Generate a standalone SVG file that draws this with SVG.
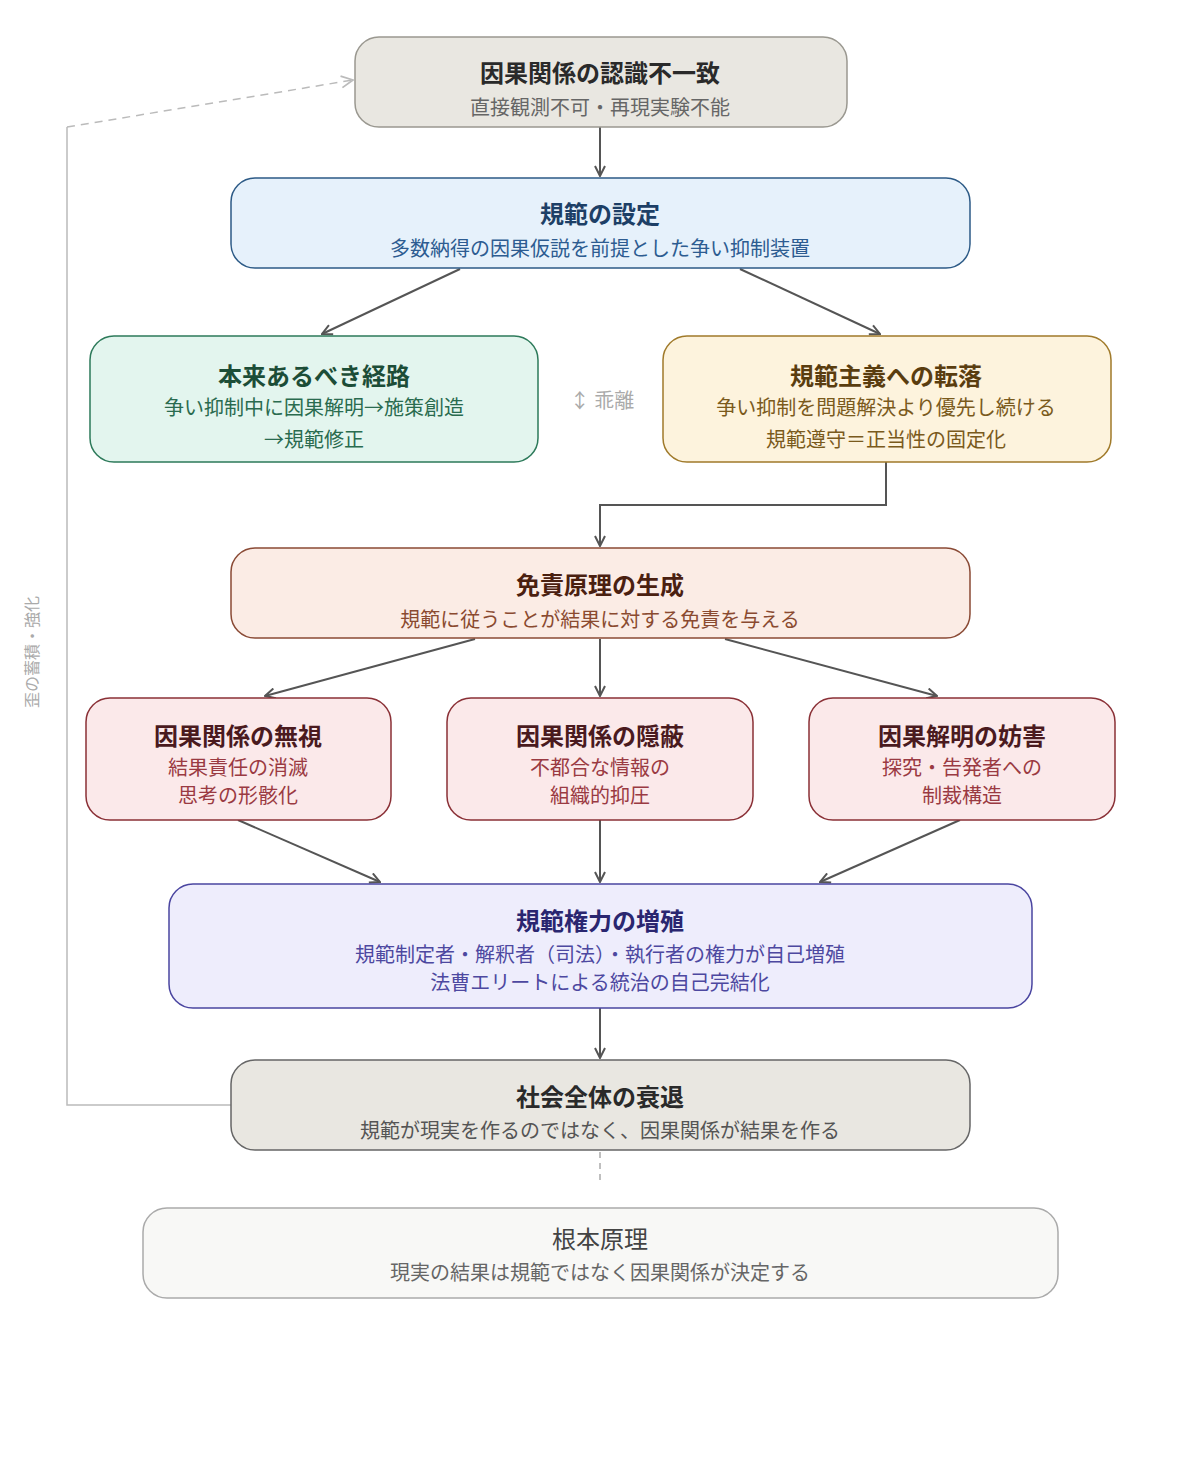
<svg xmlns="http://www.w3.org/2000/svg" width="1200" height="1482" viewBox="0 0 1200 1482">
<style>
text{font-family:"Noto Sans CJK JP","Noto Sans",sans-serif;text-anchor:middle}
.t{font-size:24px;font-weight:bold}
.s{font-size:20px}
.c{fill:none;stroke:#555;stroke-width:2}
</style>
<defs>
<marker id="a" viewBox="0 0 12 12" refX="11" refY="6" markerWidth="12" markerHeight="12" markerUnits="userSpaceOnUse" orient="auto"><path d="M1,1 L11,6 L1,11" fill="none" stroke="#555" stroke-width="2"/></marker>
<marker id="g" viewBox="0 0 12 12" refX="11" refY="6" markerWidth="14" markerHeight="14" markerUnits="userSpaceOnUse" orient="auto"><path d="M1,1 L11,6 L1,11" fill="none" stroke="#bbb" stroke-width="1.5"/></marker>
</defs>
<rect width="1200" height="1482" fill="#fff"/>
<g id="connectors">
<path class="c" d="M600,127V176" marker-end="url(#a)"/>
<path class="c" d="M460,269L322,334" marker-end="url(#a)"/>
<path class="c" d="M740,269L880,334" marker-end="url(#a)"/>
<path class="c" d="M886,462V505H600V546" marker-end="url(#a)"/>
<path class="c" d="M475,639L265,696" marker-end="url(#a)"/>
<path class="c" d="M600,639V696" marker-end="url(#a)"/>
<path class="c" d="M725,639L937,696" marker-end="url(#a)"/>
<path class="c" d="M238,820L380,882" marker-end="url(#a)"/>
<path class="c" d="M600,820V882" marker-end="url(#a)"/>
<path class="c" d="M960,820L820,882" marker-end="url(#a)"/>
<path class="c" d="M600,1008V1058" marker-end="url(#a)"/>
<path d="M600,1152V1185" fill="none" stroke="#aaa" stroke-width="1.5" stroke-dasharray="6,5"/>
<path d="M231,1105H67V127" fill="none" stroke="#bbb" stroke-width="1.5"/>
<path d="M67,127L353,80" fill="none" stroke="#bbb" stroke-width="1.5" stroke-dasharray="8,6" marker-end="url(#g)"/>
<text x="602" y="408" style="font-size:20px;fill:#aaa">↕ 乖離</text>
<text transform="translate(38,652) rotate(-90)" style="font-size:16px;fill:#aaa">歪の蓄積・強化</text>
</g>
<g id="n1"><rect x="355" y="37" width="492" height="90" rx="24" fill="#e9e7e1" stroke="#9a9890" stroke-width="1.5"/>
<text x="600" y="82" class="t" fill="#2a2a2a">因果関係の認識不一致</text><text x="600" y="115" class="s" fill="#666">直接観測不可・再現実験不能</text></g>
<g id="n2"><rect x="231" y="178" width="739" height="90" rx="24" fill="#e6f1fb" stroke="#2c5a86" stroke-width="1.5"/>
<text x="600" y="223" class="t" fill="#1d3f66">規範の設定</text><text x="600" y="256" class="s" fill="#2d5c91">多数納得の因果仮説を前提とした争い抑制装置</text></g>
<g id="n3"><rect x="90" y="336" width="448" height="126" rx="24" fill="#e3f5ee" stroke="#2d7a5a" stroke-width="1.5"/>
<text x="314" y="385" class="t" fill="#1c4d37">本来あるべき経路</text><text x="314" y="415" class="s" fill="#2a6b4f">争い抑制中に因果解明→施策創造</text><text x="314" y="447" class="s" fill="#2a6b4f">→規範修正</text></g>
<g id="n4"><rect x="663" y="336" width="448" height="126" rx="24" fill="#fdf3dd" stroke="#a07a2a" stroke-width="1.5"/>
<text x="886" y="385" class="t" fill="#5a3d0f">規範主義への転落</text><text x="886" y="415" class="s" fill="#7a5a1c">争い抑制を問題解決より優先し続ける</text><text x="886" y="447" class="s" fill="#7a5a1c">規範遵守＝正当性の固定化</text></g>
<g id="n5"><rect x="231" y="548" width="739" height="90" rx="24" fill="#fbece5" stroke="#8a4a35" stroke-width="1.5"/>
<text x="600" y="594" class="t" fill="#4a2010">免責原理の生成</text><text x="600" y="627" class="s" fill="#8a4a30">規範に従うことが結果に対する免責を与える</text></g>
<g id="n6"><rect x="86" y="698" width="305" height="122" rx="24" fill="#fbe9ea" stroke="#8a3036" stroke-width="1.5"/>
<text x="238" y="745" class="t" fill="#4a1a1e">因果関係の無視</text><text x="238" y="775" class="s" fill="#9a3a42">結果責任の消滅</text><text x="238" y="803" class="s" fill="#9a3a42">思考の形骸化</text></g>
<g id="n7"><rect x="447" y="698" width="306" height="122" rx="24" fill="#fbe9ea" stroke="#8a3036" stroke-width="1.5"/>
<text x="600" y="745" class="t" fill="#4a1a1e">因果関係の隠蔽</text><text x="600" y="775" class="s" fill="#9a3a42">不都合な情報の</text><text x="600" y="803" class="s" fill="#9a3a42">組織的抑圧</text></g>
<g id="n8"><rect x="809" y="698" width="306" height="122" rx="24" fill="#fbe9ea" stroke="#8a3036" stroke-width="1.5"/>
<text x="962" y="745" class="t" fill="#4a1a1e">因果解明の妨害</text><text x="962" y="775" class="s" fill="#9a3a42">探究・告発者への</text><text x="962" y="803" class="s" fill="#9a3a42">制裁構造</text></g>
<g id="n9"><rect x="169" y="884" width="863" height="124" rx="24" fill="#eeedfc" stroke="#4a45a0" stroke-width="1.5"/>
<text x="600" y="930" class="t" fill="#2a2670">規範権力の増殖</text><text x="600" y="962" class="s" fill="#4d48a0">規範制定者・解釈者（司法）・執行者の権力が自己増殖</text><text x="600" y="990" class="s" fill="#4d48a0">法曹エリートによる統治の自己完結化</text></g>
<g id="n10"><rect x="231" y="1060" width="739" height="90" rx="24" fill="#e9e7e1" stroke="#666" stroke-width="1.5"/>
<text x="600" y="1106" class="t" fill="#2a2a2a">社会全体の衰退</text><text x="600" y="1138" class="s" fill="#555">規範が現実を作るのではなく、因果関係が結果を作る</text></g>
<g id="n11"><rect x="143" y="1208" width="915" height="90" rx="24" fill="#f8f8f6" stroke="#aaa" stroke-width="1.5"/>
<text x="600" y="1248" class="t" style="font-weight:normal" fill="#444">根本原理</text><text x="600" y="1280" class="s" fill="#666">現実の結果は規範ではなく因果関係が決定する</text></g>
</svg>
